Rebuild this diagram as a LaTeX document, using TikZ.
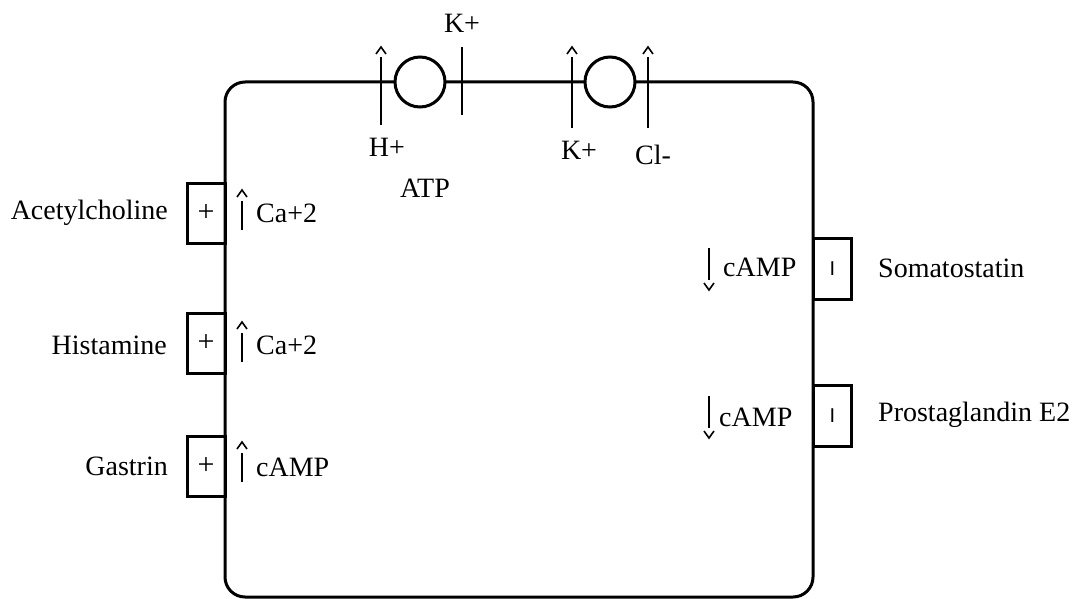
\documentclass[tikz,border=0pt]{standalone}
\usepackage{fontspec}
\setmainfont{Liberation Serif}
\newfontfamily\sansf{Liberation Sans}
\begin{document}
\begin{tikzpicture}[x=1pt,y=-1pt,
  lbl/.style={font=\fontsize{28}{30}\selectfont, inner sep=0pt},
  rbox/.style={draw, line width=3pt, minimum width=38pt, minimum height=60pt, inner sep=0pt, font=\fontsize{30}{32}\selectfont},
  pump/.style={draw, circle, line width=3pt, fill=white, minimum size=50pt, inner sep=0pt},
  bar/.style={line width=2.5pt},
  chev/.style={line width=1.6pt},
  uparr/.pic={\draw[chev] (-5,7) -- (0,0) -- (5,7); \draw[bar] (0,11) -- (0,40);},
  dnarr/.pic={\draw[chev] (-5,-7) -- (0,0) -- (5,-7); \draw[bar] (0,-10) -- (0,-42);}
]
\useasboundingbox (0,0) rectangle (1078,599);
% cell
\draw[line width=3pt, rounded corners=20pt] (225,82) rectangle (813,597);
% pumps
\node[pump] (p1) at (420,82) {};
\node[pump] (p2) at (610,82) {};
% bars
\coordinate (h1) at (381,57); \coordinate (h2) at (381,125);
\draw[bar] (h1) -- (h2);
\draw[chev] (376,54) -- (381,47) -- (386,54);
\coordinate (k1) at (462,47); \coordinate (k2) at (462,115);
\draw[bar] (k1) -- (k2);
\coordinate (k3) at (572,57); \coordinate (k4) at (572,128);
\draw[bar] (k3) -- (k4);
\draw[chev] (567,54) -- (572,47) -- (577,54);
\coordinate (c1) at (648,57); \coordinate (c2) at (648,128);
\draw[bar] (c1) -- (c2);
\draw[chev] (643,54) -- (648,47) -- (653,54);
% top labels
\node[lbl] (kplus1) at (462,23) {K+};
\node[lbl] (hplus) at (387,147) {H+};
\node[lbl] (atp) at (425,188) {ATP};
\node[lbl] (kplus2) at (579,150) {K+};
\node[lbl] (clm) at (653,155) {Cl-};
% left receptors
\node[rbox] (ach) at (206,213) {+};
\node[rbox] (his) at (206,343) {+};
\node[rbox] (gas) at (206,466) {+};
\node[lbl, anchor=east] (achl) at (168,213) {Acetylcholine};
\node[lbl, anchor=east] (hisl) at (167,345) {Histamine};
\node[lbl, anchor=east] (gasl) at (168,466) {Gastrin};
\pic at (242,190) {uparr};
\pic at (242,322) {uparr};
\pic at (242,442) {uparr};
\node[lbl, anchor=west] (ca1) at (256,213) {Ca+2};
\node[lbl, anchor=west] (ca2) at (256,345) {Ca+2};
\node[lbl, anchor=west] (camp1) at (256,467) {cAMP};
% right receptors
\node[rbox, minimum height=61pt, font=\sansf\fontsize{20}{22}\selectfont] (som) at (832.5,268.5) {I};
\node[rbox, minimum height=61pt, font=\sansf\fontsize{20}{22}\selectfont] (pge) at (832.5,416) {I};
\node[lbl, anchor=west] (soml) at (878,268) {Somatostatin};
\node[lbl, anchor=west] (pgel) at (878,415) {Prostaglandin E2};
\pic at (709,290) {dnarr};
\pic at (709,438) {dnarr};
\node[lbl, anchor=west] (camp2) at (723,267) {cAMP};
\node[lbl, anchor=west] (camp3) at (719,417) {cAMP};
\end{tikzpicture}
\end{document}
